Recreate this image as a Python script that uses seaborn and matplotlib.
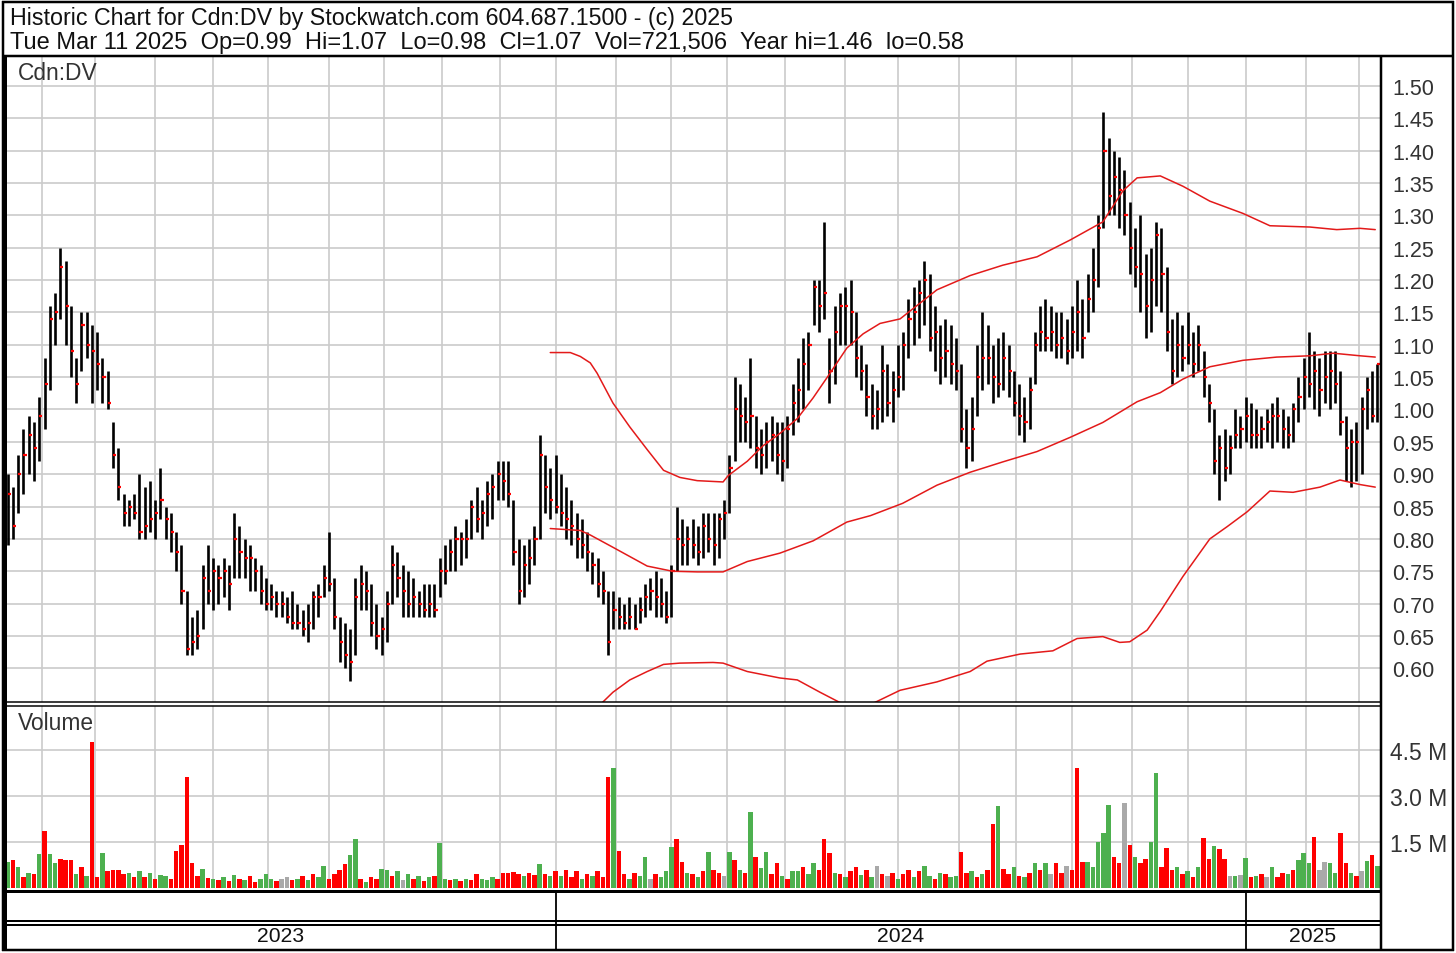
import numpy as np
import pandas as pd
import matplotlib
matplotlib.use("Agg")
import matplotlib.pyplot as plt
from matplotlib.lines import Line2D
from matplotlib import font_manager
import seaborn as sns

# ---------------- data ----------------
START_DATE = "2023-03-14"
END_DATE = "2025-03-11"

header_line1 = "Historic Chart for Cdn:DV by Stockwatch.com 604.687.1500 - (c) 2025"
header_line2 = ("Tue Mar 11 2025  Op=0.99  Hi=1.07  Lo=0.98  Cl=1.07  "
                "Vol=721,506  Year hi=1.46  lo=0.58")
symbol_label = "Cdn:DV"
volume_label = "Volume"
year_labels = ["2023", "2024", "2025"]

price_ticks = [0.60, 0.65, 0.70, 0.75, 0.80, 0.85, 0.90, 0.95, 1.00, 1.05,
               1.10, 1.15, 1.20, 1.25, 1.30, 1.35, 1.40, 1.45, 1.50]
vol_ticks = [1.5, 3.0, 4.5]
vol_tick_labels = ["1.5 M", "3.0 M", "4.5 M"]

# one bar = two trading days
highs = [
    .90, .88, .93, .97, .99, .98, 1.02, 1.08, 1.16, 1.18,
    1.25, 1.23, 1.16, 1.08, 1.15, 1.15, 1.13, 1.12, 1.08, 1.06,
    .98, .94, .87, .86, .87, .90, .88, .89, .86, .91,
    .85, .84, .81, .79, .72, .68, .69, .76, .79, .77,
    .76, .77, .76, .84, .82, .80, .79, .77, .76, .74,
    .73, .72, .72, .71, .72, .70, .69, .70, .72, .73,
    .76, .81, .74, .68, .67, .66, .74, .76, .75, .73,
    .70, .68, .72, .79, .78, .76, .75, .74, .72, .73,
    .73, .73, .77, .79, .80, .82, .81, .83, .86, .88,
    .86, .89, .90, .92, .92, .92, .86, .80, .79, .80,
    .82, .96, .93, .91, .93, .90, .88, .86, .84, .83,
    .81, .78, .77, .75, .72, .72, .71, .70, .71, .70,
    .71, .73, .74, .75, .74, .72, .76, .85, .83, .82,
    .83, .82, .84, .84, .84, .84, .86, .93, 1.05, 1.04,
    1.02, 1.08, .99, .97, .98, .99, .98, .98, .99, 1.04,
    1.08, 1.11, 1.12, 1.20, 1.20, 1.29, 1.11, 1.16, 1.18, 1.19,
    1.20, 1.15, 1.10, 1.07, 1.04, 1.03, 1.10, 1.07, 1.06, 1.10,
    1.12, 1.17, 1.19, 1.20, 1.23, 1.21, 1.16, 1.13, 1.14, 1.13,
    1.11, 1.07, 1.00, 1.02, 1.10, 1.15, 1.13, 1.10, 1.11, 1.12,
    1.10, 1.06, 1.04, 1.02, 1.05, 1.12, 1.16, 1.17, 1.16, 1.15,
    1.15, 1.14, 1.16, 1.20, 1.17, 1.21, 1.25, 1.30, 1.46, 1.42,
    1.40, 1.39, 1.37, 1.32, 1.28, 1.30, 1.24, 1.25, 1.29, 1.28,
    1.22, 1.14, 1.15, 1.13, 1.15, 1.12, 1.13, 1.09, 1.04, 1.00,
    .96, .97, .96, 1.00, .99, 1.02, 1.01, 1.00, .99, 1.00,
    1.01, 1.02, 1.00, .99, 1.01, 1.05, 1.08, 1.12, 1.09, 1.08,
    1.09, 1.09, 1.09, 1.06, .99, .97, .98, 1.02, 1.05, 1.06, 1.07,
]
lows = [
    .79, .80, .84, .87, .90, .89, .92, .97, 1.03, 1.10,
    1.14, 1.10, 1.05, 1.01, 1.06, 1.08, 1.01, 1.03, 1.01, 1.00,
    .91, .86, .82, .82, .83, .80, .80, .81, .80, .83,
    .80, .78, .75, .70, .62, .62, .63, .66, .70, .69,
    .70, .71, .69, .74, .74, .74, .72, .72, .70, .69,
    .69, .68, .68, .67, .66, .66, .65, .64, .66, .68,
    .71, .72, .66, .61, .60, .58, .62, .69, .69, .65,
    .63, .62, .64, .70, .71, .68, .68, .68, .68, .68,
    .68, .68, .71, .73, .75, .75, .76, .77, .80, .81,
    .80, .82, .83, .86, .86, .85, .76, .70, .71, .73,
    .76, .80, .84, .83, .84, .82, .80, .79, .77, .77,
    .75, .73, .71, .70, .62, .66, .66, .66, .66, .66,
    .67, .68, .69, .68, .68, .67, .68, .75, .76, .76,
    .77, .76, .77, .78, .76, .77, .80, .84, .92, .95,
    .95, .94, .91, .90, .91, .92, .90, .89, .91, .96,
    .98, 1.00, 1.03, 1.13, 1.12, 1.14, 1.01, 1.04, 1.10, 1.10,
    1.10, 1.05, 1.03, .99, .97, .97, .98, .99, .98, 1.02,
    1.03, 1.08, 1.10, 1.11, 1.13, 1.09, 1.06, 1.04, 1.05, 1.04,
    1.03, .95, .91, .92, .99, 1.03, 1.04, 1.01, 1.02, 1.03,
    1.02, .99, .96, .95, .97, 1.04, 1.09, 1.09, 1.09, 1.08,
    1.08, 1.07, 1.08, 1.09, 1.08, 1.12, 1.15, 1.19, 1.28, 1.30,
    1.30, 1.28, 1.27, 1.21, 1.19, 1.15, 1.11, 1.12, 1.16, 1.15,
    1.09, 1.04, 1.05, 1.06, 1.07, 1.05, 1.06, 1.02, .98, .90,
    .86, .89, .90, .94, .94, .95, .94, .94, .94, .95,
    .94, .95, .94, .94, .95, .98, 1.00, 1.02, 1.00, .99,
    1.01, 1.00, 1.01, .96, .89, .88, .89, .90, .97, .98, .98,
]
closes = [
    .87, .82, .90, .93, .96, .94, .99, 1.04, 1.14, 1.15,
    1.22, 1.16, 1.09, 1.04, 1.13, 1.10, 1.09, 1.07, 1.05, 1.01,
    .93, .88, .84, .85, .84, .81, .82, .83, .84, .86,
    .83, .81, .78, .72, .63, .64, .65, .74, .72, .75,
    .74, .75, .73, .80, .78, .77, .77, .75, .72, .70,
    .71, .70, .70, .68, .67, .67, .66, .67, .71, .71,
    .74, .73, .68, .64, .62, .61, .71, .73, .72, .67,
    .65, .66, .70, .76, .74, .72, .70, .71, .70, .69,
    .70, .69, .75, .75, .78, .80, .80, .80, .85, .83,
    .84, .87, .88, .90, .89, .87, .78, .72, .76, .77,
    .80, .93, .88, .86, .85, .84, .83, .82, .80, .79,
    .78, .76, .73, .72, .64, .69, .68, .67, .68, .66,
    .69, .71, .72, .71, .70, .68, .75, .80, .79, .80,
    .79, .78, .82, .80, .79, .83, .84, .91, 1.00, .99,
    .98, .99, .94, .93, .95, .96, .93, .92, .97, 1.01,
    1.03, 1.07, 1.10, 1.19, 1.16, 1.18, 1.06, 1.12, 1.16, 1.16,
    1.15, 1.08, 1.06, 1.02, .99, 1.00, 1.06, 1.01, 1.03, 1.05,
    1.10, 1.14, 1.15, 1.18, 1.20, 1.11, 1.12, 1.08, 1.09, 1.07,
    1.06, .97, .94, .97, 1.05, 1.08, 1.08, 1.05, 1.04, 1.08,
    1.06, 1.01, .99, .98, 1.03, 1.10, 1.12, 1.11, 1.12, 1.10,
    1.11, 1.09, 1.12, 1.15, 1.11, 1.17, 1.20, 1.28, 1.40, 1.33,
    1.36, 1.34, 1.30, 1.25, 1.22, 1.21, 1.16, 1.20, 1.27, 1.21,
    1.12, 1.06, 1.10, 1.08, 1.10, 1.07, 1.10, 1.05, 1.01, .92,
    .94, .91, .94, .96, .97, .99, .96, .96, .97, .98,
    .99, .99, .97, .96, 1.00, 1.02, 1.05, 1.04, 1.06, 1.03,
    1.05, 1.06, 1.04, .98, .94, .95, .95, 1.00, 1.03, .99, 1.07,
]
volumes_m = [
    0.85, 0.90, 0.70, 0.35, 0.50, 0.45, 1.10, 1.86, 1.12, 0.80,
    0.95, 0.90, 0.92, 0.45, 0.70, 0.40, 4.77, 0.35, 1.13, 0.55,
    0.60, 0.58, 0.45, 0.50, 0.35, 0.55, 0.35, 0.50, 0.30, 0.42,
    0.38, 0.30, 1.20, 1.40, 3.63, 0.82, 0.40, 0.61, 0.33, 0.28,
    0.25, 0.35, 0.22, 0.42, 0.30, 0.26, 0.38, 0.20, 0.30, 0.45,
    0.30, 0.22, 0.28, 0.35, 0.25, 0.30, 0.38, 0.26, 0.45, 0.35,
    0.71, 0.30, 0.45, 0.58, 0.77, 1.07, 1.61, 0.28, 0.20, 0.35,
    0.30, 0.62, 0.58, 0.40, 0.55, 0.25, 0.45, 0.30, 0.38, 0.22,
    0.35, 0.40, 1.48, 0.30, 0.25, 0.28, 0.22, 0.30, 0.26, 0.45,
    0.30, 0.25, 0.35, 0.28, 0.50, 0.48, 0.52, 0.45, 0.40, 0.48,
    0.42, 0.78, 0.45, 0.40, 0.55, 0.38, 0.60, 0.35, 0.55, 0.30,
    0.45, 0.38, 0.55, 0.35, 3.63, 3.90, 1.20, 0.45, 0.30, 0.50,
    0.40, 1.00, 0.30, 0.45, 0.35, 0.55, 1.35, 1.59, 0.85, 0.50,
    0.45, 0.35, 0.55, 1.18, 0.59, 0.50, 0.40, 1.18, 0.91, 0.60,
    0.50, 2.49, 1.02, 0.65, 1.18, 0.45, 0.80, 0.38, 0.30, 0.55,
    0.55, 0.70, 0.45, 0.80, 0.60, 1.59, 1.13, 0.50, 0.45, 0.35,
    0.55, 0.70, 0.42, 0.60, 0.35, 0.73, 0.45, 0.38, 0.50, 0.30,
    0.45, 0.60, 0.35, 0.55, 0.73, 0.40, 0.30, 0.50, 0.45, 0.35,
    0.40, 1.18, 0.50, 0.56, 0.35, 0.45, 0.60, 2.09, 2.66, 0.62,
    0.45, 0.70, 0.40, 0.35, 0.50, 0.83, 0.60, 0.83, 0.45, 0.80,
    0.50, 0.73, 0.60, 3.90, 0.85, 0.85, 0.70, 1.51, 1.78, 2.71,
    1.00, 0.80, 2.77, 1.40, 1.00, 0.80, 0.93, 1.51, 3.74, 0.70,
    1.29, 0.60, 0.70, 0.45, 0.55, 0.35, 0.70, 1.64, 0.93, 1.38,
    1.27, 0.93, 0.40, 0.38, 0.42, 0.97, 0.35, 0.40, 0.46, 0.35,
    0.70, 0.35, 0.50, 0.45, 0.60, 0.90, 1.13, 0.80, 1.67, 0.60,
    0.85, 0.83, 0.50, 1.78, 0.82, 0.50, 0.40, 0.55, 0.87, 1.07, 0.72,
]
# r = down, g = up, n = unchanged
vol_dirs = ("grgrgrgrgg" "rrrgrgrrgr" "rrrgrgrgrg" "grrrrrrgrg" "rgrgrgrrgg"
            "grnnrgrgrg" "grrrrggrgr" "rggrgngrgr" "grggrgrgrr" "gggrrrrrgr"
            "rgrgrgrrrg" "rgrrrgrrgr" "ggnrgggrrg" "rgrgrrngrg" "rgrggrrgrg"
            "grggrrrgrg" "rrgrgnrnrg" "rrgrggrgrg" "grrgrgrrgr" "rgrgrgrgnr"
            "rnrrrggggg" "rrnrgrrggr" "rrgrgrgrrg" "rrngngrgrn" "grrgrgggrn"
            "nggrrgrngrg")

# Bollinger bands: points (bar position, price)
upper_x = [103.0, 106.8, 108.7, 110.6, 111.9, 114.9, 118.1, 121.4, 124.5,
           127.6, 130.9, 135.8, 136.8, 140.4, 143.4, 146.6, 149.9, 152.9,
           156.1, 159.3, 162.4, 165.6, 169.4, 176.4, 182.7, 188.9, 195.4,
           201.7, 207.9, 211.7, 214.4, 218.8, 223.1, 228.2, 234.5, 239.6,
           247.2, 252.3, 256.7, 259.6]
upper_y = [1.088, 1.088, 1.082, 1.072, 1.056, 1.010, 0.973, 0.938, 0.906,
           0.895, 0.890, 0.888, 0.898, 0.920, 0.944, 0.963, 0.986, 1.018,
           1.056, 1.095, 1.117, 1.133, 1.140, 1.185, 1.207, 1.223, 1.236,
           1.262, 1.290, 1.338, 1.358, 1.361, 1.345, 1.322, 1.303, 1.284,
           1.282, 1.278, 1.280, 1.278]
mid_x = [103.0, 108.7, 110.6, 114.9, 121.4, 126.2, 130.9, 135.8, 140.4,
         146.6, 152.9, 159.3, 163.8, 169.9, 176.4, 182.7, 188.9, 195.4,
         201.7, 207.9, 214.4, 218.8, 223.1, 228.2, 234.5, 240.9, 247.2,
         251.6, 256.7, 259.6]
mid_y = [0.816, 0.813, 0.806, 0.787, 0.758, 0.750, 0.749, 0.749, 0.765,
         0.778, 0.797, 0.826, 0.836, 0.855, 0.883, 0.903, 0.919, 0.935,
         0.957, 0.980, 1.012, 1.026, 1.047, 1.066, 1.076, 1.081, 1.083,
         1.087, 1.083, 1.081]
lower_x = [103.0, 112.5, 114.9, 118.1, 121.4, 124.5, 127.6, 133.9, 135.8,
           140.4, 146.6, 149.9, 154.2, 158.0, 162.4, 163.8, 169.4, 176.4,
           182.7, 185.9, 192.2, 198.4, 203.0, 207.9, 211.1, 213.0, 216.3,
           218.8, 223.1, 228.2, 231.5, 235.3, 239.6, 244.0, 249.1, 252.9,
           256.7, 259.6]
lower_y = [0.541, 0.544, 0.563, 0.582, 0.595, 0.606, 0.608, 0.609, 0.608,
           0.595, 0.585, 0.582, 0.563, 0.547, 0.544, 0.544, 0.566, 0.579,
           0.595, 0.611, 0.622, 0.627, 0.646, 0.649, 0.640, 0.641, 0.659,
           0.688, 0.742, 0.800, 0.819, 0.842, 0.874, 0.872, 0.880, 0.891,
           0.884, 0.880]

# ---------------- styling ----------------
sns.set_theme(style="white")


def has_font(name):
    try:
        font_manager.findfont(font_manager.FontProperties(family=name),
                              fallback_to_default=False)
        return True
    except Exception:
        return False


REG = "Liberation Sans" if has_font("Liberation Sans") else "DejaVu Sans"
NARROW = "Liberation Sans Narrow" if has_font("Liberation Sans Narrow") else REG
plt.rcParams["font.family"] = [REG, "DejaVu Sans"]

RED = "#ff0000"
GREEN = "#4db04f"
GRAY = "#a9a9a9"
GRID = "#cbcbcb"
LABEL = "#333333"

W, H = 1456, 954
fig = plt.figure(figsize=(W / 100, H / 100), dpi=100, facecolor="white")


def rect(x0, y0, x1, y1):
    return [x0 / W, 1 - y1 / H, (x1 - x0) / W, (y1 - y0) / H]


n = len(highs)
idx = np.arange(n)
weekdays = pd.bdate_range(START_DATE, END_DATE)
month_pos, year_pos = [], []
prev = None
for k, d in enumerate(weekdays):
    if prev is not None and d.month != prev.month:
        month_pos.append(k / 2 - 0.5)
        if d.year != prev.year:
            year_pos.append(k / 2 - 0.5)
    prev = d
xlim = (-0.5, n - 0.5)

# ---------------- price panel ----------------
ax_p = fig.add_axes(rect(5, 58, 1380, 703))
ax_p.set_facecolor("white")
ax_p.vlines(idx, lows, highs, color="black", lw=1.9, zorder=3)
ax_p.hlines(closes, idx, idx + 0.6, color=RED, lw=1.6, zorder=4)
for bx, by in ((upper_x, upper_y), (mid_x, mid_y), (lower_x, lower_y)):
    sns.lineplot(x=bx, y=by, ax=ax_p, color="#e31a1a", lw=1.1, zorder=5)
ax_p.set_xlim(*xlim)
ax_p.set_ylim(0.5479, 1.5448)
ax_p.set_xticks(month_pos)
ax_p.set_xticklabels([])
ax_p.set_yticks(price_ticks, labels=[f"{t:.2f}" for t in price_ticks])
ax_p.yaxis.tick_right()
ax_p.tick_params(axis="y", length=0, pad=9, labelsize=15.5,
                 labelcolor=LABEL)
ax_p.tick_params(axis="x", length=0)
ax_p.grid(True, color=GRID, lw=1.2)
ax_p.set_axisbelow(True)
ax_p.set_xlabel("")
ax_p.set_ylabel("")
for s in ax_p.spines.values():
    s.set_visible(False)

# ---------------- volume panel ----------------
ax_v = fig.add_axes(rect(5, 707, 1380, 889))
ax_v.set_facecolor("white")
sns.barplot(x=idx, y=volumes_m, hue=list(vol_dirs),
            palette={"r": RED, "g": GREEN, "n": GRAY},
            dodge=False, legend=False, native_scale=True, width=0.85,
            saturation=1, linewidth=0, edgecolor="none", ax=ax_v)
ax_v.set_xlim(*xlim)
ax_v.set_ylim(0, 5.93)
ax_v.set_xticks(month_pos)
ax_v.set_xticklabels([])
ax_v.set_yticks(vol_ticks, labels=vol_tick_labels)
ax_v.yaxis.tick_right()
ax_v.tick_params(axis="y", length=0, pad=7, labelsize=16.5,
                 labelcolor=LABEL)
ax_v.tick_params(axis="x", length=0)
ax_v.grid(True, color=GRID, lw=1.2)
ax_v.set_axisbelow(True)
ax_v.set_xlabel("")
ax_v.set_ylabel("")
for s in ax_v.spines.values():
    s.set_visible(False)

# ---------------- year strip ----------------
ax_b = fig.add_axes(rect(5, 894, 1380, 950))
ax_b.set_xlim(*xlim)
ax_b.set_ylim(0, 1)
ax_b.axis("off")
for yp in year_pos:
    ax_b.axvline(yp, color="black", lw=1.3)
bounds = [xlim[0]] + year_pos + [xlim[1]]
year_texts = []
for lab, a, b in zip(year_labels, bounds[:-1], bounds[1:]):
    year_texts.append(ax_b.text((a + b) / 2, (950 - 937) / 56, lab,
                                ha="center", va="center", fontsize=17,
                                family=[NARROW, "DejaVu Sans"],
                                color="#111111"))

# ---------------- frame lines ----------------
def hline(y, x0, x1, px):
    fig.add_artist(Line2D([x0 / W, x1 / W], [1 - y / H, 1 - y / H],
                          transform=fig.transFigure, color="black",
                          lw=px * 0.72, solid_capstyle="butt"))


def vline(x, y0, y1, px):
    fig.add_artist(Line2D([x / W, x / W], [1 - y0 / H, 1 - y1 / H],
                          transform=fig.transFigure, color="black",
                          lw=px * 0.72, solid_capstyle="butt"))


hline(3, 2, 1454, 2.5)
hline(951, 2, 1454, 2.5)
vline(3, 2, 952, 2.5)
vline(1453, 2, 952, 2.5)
vline(4.5, 57, 951, 3)
hline(57, 2, 1454, 2.5)
vline(1381, 57, 951, 2.5)
hline(703, 3, 1381, 1.5)
hline(707, 3, 1381, 1.5)
hline(892, 3, 1381, 3)
hline(922, 3, 1381, 2)
hline(926, 3, 1381, 2)

# ---------------- texts ----------------
t1 = fig.text(10 / W, 1 - 18 / H, header_line1, va="center", ha="left",
              fontsize=16, family=[NARROW, "DejaVu Sans"], color="#111111")
t2 = fig.text(10 / W, 1 - 43 / H, header_line2, va="center", ha="left",
              fontsize=16, family=[NARROW, "DejaVu Sans"], color="#111111")
fig.text(18 / W, 1 - 74 / H, symbol_label, va="center", ha="left",
         fontsize=16.4, color=LABEL)
fig.text(18 / W, 1 - 724 / H, volume_label, va="center", ha="left",
         fontsize=16.4, color=LABEL)

renderer = fig.canvas.get_renderer()


def fit(t, target_px):
    w = t.get_window_extent(renderer=renderer).width
    if w > 0:
        t.set_fontsize(t.get_fontsize() * target_px / w)


fit(t1, 725)
fit(t2, 952)
for yt in year_texts:
    fit(yt, 47)

fig.savefig("out.png", dpi=100, facecolor="white")
